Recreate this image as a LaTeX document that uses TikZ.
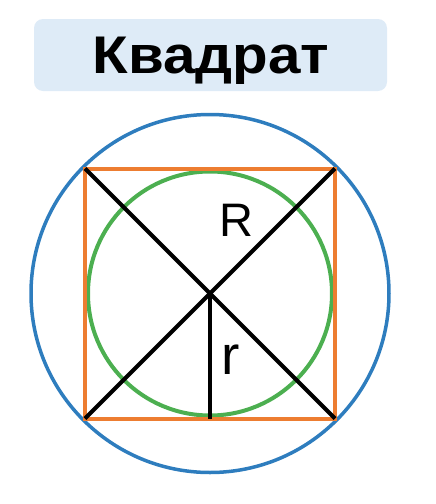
\documentclass[tikz,border=0pt]{standalone}
\usepackage{graphicx}
\usepackage{fontspec}
\setmainfont{Liberation Sans}
\usepackage{tikz}
\usetikzlibrary{positioning}

\definecolor{circblue}{RGB}{46,125,190}
\definecolor{sqorange}{RGB}{237,125,49}
\definecolor{circgreen}{RGB}{76,175,80}
\definecolor{titlefill}{RGB}{222,235,247}

\tikzset{
  titlebox/.style={rectangle,rounded corners=9pt,fill=titlefill,minimum width=353pt,minimum height=72pt,inner sep=0pt},
  outer/.style={draw=circblue,line width=3.5pt},
  square/.style={draw=sqorange,line width=4pt},
  inner/.style={draw=circgreen,line width=4pt},
  radius line/.style={draw=black,line width=4pt},
  letter/.style={inner sep=0pt,font=\fontsize{47}{50}\selectfont}
}

\begin{document}
\begin{tikzpicture}[x=1pt,y=-1pt]
	\useasboundingbox (0,0) rectangle (436,504);
	\node[titlebox] (title) at (210.5,55) {};
	\node[inner sep=0pt,anchor=base,font=\fontsize{53}{60}\selectfont\bfseries] (word) at (211,73) {\scalebox{1.1}[1]{Квадрат}};

	\coordinate (O) at (210,293.5);
	\coordinate (TL) at (85,168.5);
	\coordinate (TR) at (335,168.5);
	\coordinate (BR) at (335,418.5);
	\coordinate (BL) at (85,418.5);
	\coordinate (foot) at (O|-BL);

	\draw[outer] (O) circle[radius=179pt];
	\draw[inner] (O) circle[radius=122pt];
	\draw[square] (TL) -- (TR) -- (BR) -- (BL) -- cycle;

	\draw[radius line] (TL) -- (BR);
	\draw[radius line] (BL) -- (TR);
	\draw[radius line] (O) -- (foot);

	\node[letter] (R) at (236,220) {R};
	\node[letter,font=\fontsize{55}{58}\selectfont] (r) at (231,360) {r};
\end{tikzpicture}
\end{document}
